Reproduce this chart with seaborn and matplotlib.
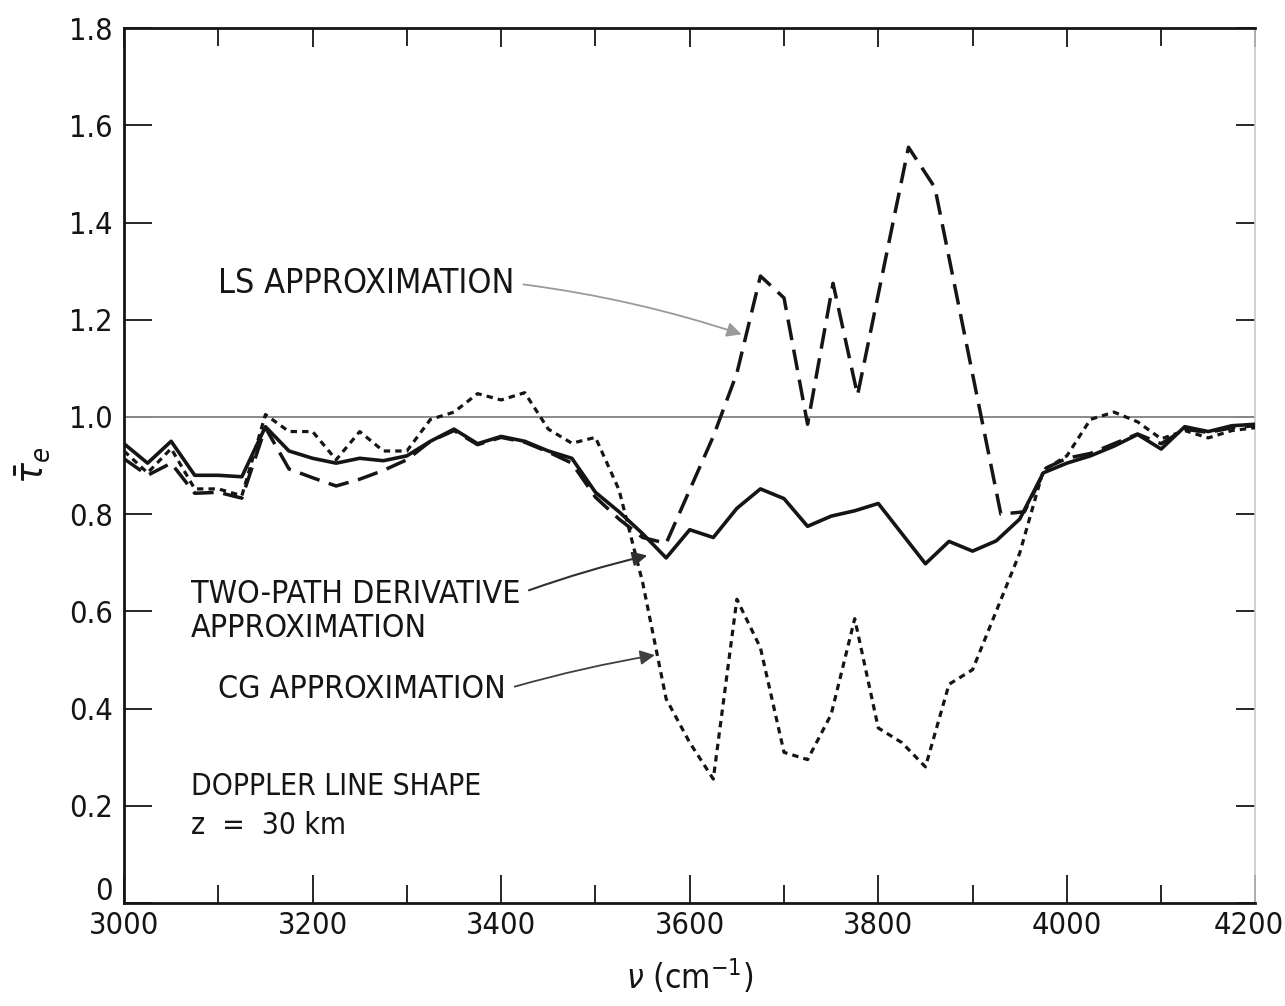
import matplotlib
matplotlib.use("Agg")
import matplotlib.pyplot as plt
import matplotlib.transforms as mtransforms
import seaborn as sns
from matplotlib.ticker import MultipleLocator
from matplotlib import font_manager

# ---- data ----
nu_two_path = [3000, 3025, 3050, 3075, 3100, 3125, 3150, 3175, 3200, 3225, 3250, 3275,
               3300, 3325, 3350, 3375, 3400, 3425, 3450, 3475, 3500, 3525, 3550, 3575,
               3600, 3625, 3650, 3675, 3700, 3725, 3750, 3775, 3800, 3825, 3850, 3875,
               3900, 3925, 3950, 3975, 4000, 4025, 4050, 4075, 4100, 4125, 4150, 4175, 4200]
tau_two_path = [0.945, 0.905, 0.950, 0.880, 0.880, 0.877, 0.980, 0.930, 0.915, 0.905, 0.915, 0.910,
                0.920, 0.950, 0.975, 0.945, 0.960, 0.950, 0.930, 0.915, 0.845, 0.805, 0.760, 0.710,
                0.768, 0.752, 0.812, 0.852, 0.832, 0.775, 0.796, 0.807, 0.822, 0.760, 0.698, 0.744,
                0.724, 0.745, 0.790, 0.885, 0.905, 0.920, 0.940, 0.964, 0.934, 0.980, 0.970, 0.982, 0.985]

nu_ls = [3000, 3025, 3050, 3075, 3100, 3125, 3150, 3175, 3200, 3225, 3250, 3275,
         3300, 3325, 3350, 3375, 3400, 3425, 3450, 3475, 3500, 3525, 3550, 3575,
         3600, 3625, 3650, 3675, 3700, 3725, 3752, 3778, 3832, 3860, 3930, 3955, 3978,
         4000, 4025, 4050, 4075, 4100, 4125, 4150, 4175, 4200]
tau_ls = [0.914, 0.880, 0.905, 0.843, 0.845, 0.833, 0.978, 0.893, 0.875, 0.858, 0.872, 0.890,
          0.912, 0.950, 0.972, 0.943, 0.958, 0.948, 0.928, 0.905, 0.835, 0.790, 0.752, 0.740,
          0.850, 0.960, 1.090, 1.290, 1.245, 0.985, 1.275, 1.045, 1.555, 1.472, 0.800, 0.805, 0.895,
          0.915, 0.925, 0.945, 0.965, 0.945, 0.975, 0.968, 0.978, 0.982]

nu_cg = [3000, 3025, 3050, 3075, 3100, 3125, 3150, 3175, 3200, 3225, 3250, 3275,
         3300, 3325, 3350, 3375, 3400, 3425, 3450, 3475, 3500, 3525, 3550, 3575,
         3600, 3625, 3650, 3675, 3700, 3725, 3750, 3775, 3800, 3825, 3850, 3875,
         3900, 3925, 3950, 3975, 4000, 4025, 4050, 4075, 4100, 4125, 4150, 4175, 4200]
tau_cg = [0.930, 0.885, 0.935, 0.852, 0.852, 0.838, 1.005, 0.970, 0.970, 0.912, 0.970, 0.930,
          0.930, 0.995, 1.010, 1.048, 1.035, 1.050, 0.975, 0.946, 0.958, 0.850, 0.660, 0.420,
          0.330, 0.255, 0.625, 0.525, 0.310, 0.295, 0.388, 0.585, 0.360, 0.330, 0.280, 0.450,
          0.480, 0.600, 0.720, 0.890, 0.920, 0.995, 1.010, 0.990, 0.955, 0.972, 0.957, 0.972, 0.978]

reference_level = 1.0
x_ticks = [3000, 3200, 3400, 3600, 3800, 4000, 4200]
y_ticks = [0, 0.2, 0.4, 0.6, 0.8, 1.0, 1.2, 1.4, 1.6, 1.8]
y_tick_labels = ["0", "0.2", "0.4", "0.6", "0.8", "1.0", "1.2", "1.4", "1.6", "1.8"]

# ---- style ----
sns.set_theme(style="ticks")
plt.rcParams["font.family"] = ["DejaVu Sans"]
plt.rcParams["font.stretch"] = "condensed"
found = font_manager.findfont(font_manager.FontProperties(family="DejaVu Sans", stretch="condensed"))
condensed = "Condensed" in found
plt.rcParams["mathtext.fontset"] = "dejavusans"

TICK_FS = 22 if condensed else 19
LBL_FS = 24 if condensed else 22
NOTE_FS = 23 if condensed else 21

fig = plt.figure(figsize=(12.85, 10.06), dpi=100)
ax = fig.add_axes([0.0965, 0.1024, 0.8805, 0.8696])
INK = "#151515"

ax.axhline(reference_level, color="#8a8a8a", lw=1.4, zorder=1)

sns.lineplot(x=nu_two_path, y=tau_two_path, ax=ax, color=INK, lw=2.6, sort=False,
             linestyle="-", zorder=3)
sns.lineplot(x=nu_ls, y=tau_ls, ax=ax, color=INK, lw=2.5, sort=False,
             linestyle=(0, (6, 2.8)), zorder=3)
sns.lineplot(x=nu_cg, y=tau_cg, ax=ax, color=INK, lw=2.3, sort=False,
             linestyle=(0, (2.0, 1.6)), zorder=3)

ax.set_xlim(3000, 4200)
ax.set_ylim(0, 1.8)
ax.set_xticks(x_ticks)
ax.set_yticks(y_ticks)
ax.set_yticklabels(y_tick_labels)
ax.xaxis.set_minor_locator(MultipleLocator(100))

ax.tick_params(axis="both", which="major", direction="in", length=20, width=1.3,
               color=INK, labelsize=TICK_FS, labelcolor=INK, top=True, right=True)
ax.tick_params(axis="x", which="major", pad=6)
ax.tick_params(axis="y", which="major", pad=8)
ax.tick_params(axis="x", which="minor", direction="in", length=13, width=1.3,
               color=INK, top=True)
for t in ax.yaxis.get_major_ticks():
    t.tick2line.set_color("#9a9a9a")
    t.tick2line.set_markersize(14)
for t in ax.xaxis.get_major_ticks():
    t.tick2line.set_markersize(14)

# nudge the corner labels like the reference: "0" sits above the axis, "4200" inside the canvas
xlabels = ax.get_xticklabels()
xlabels[-1].set_transform(xlabels[-1].get_transform() +
                          mtransforms.ScaledTranslation(-7 / 100, 0, fig.dpi_scale_trans))
ylabels = ax.get_yticklabels()
ylabels[0].set_transform(ylabels[0].get_transform() +
                         mtransforms.ScaledTranslation(0, 14 / 100, fig.dpi_scale_trans))

for side in ["left", "bottom", "top"]:
    ax.spines[side].set_color(INK)
    ax.spines[side].set_linewidth(2.0)
ax.spines["right"].set_color("#c8c8c8")
ax.spines["right"].set_linewidth(1.2)

ax.set_xlabel(r"$\nu$ (cm$^{-1}$)", fontsize=LBL_FS, color=INK, labelpad=12)
ax.set_ylabel(r"$\bar{\tau}_e$", fontsize=LBL_FS + 4, color=INK, labelpad=12)

# ---- annotations ----
ax.annotate("LS APPROXIMATION", xy=(3655, 1.17), xytext=(3100, 1.275),
            fontsize=NOTE_FS + 1.5, color=INK, ha="left", va="center",
            arrowprops=dict(arrowstyle="-|>", color="#9a9a9a", lw=1.3,
                            mutation_scale=22, relpos=(1, 0.5), shrinkA=4, shrinkB=0,
                            connectionstyle="arc3,rad=-0.05"))
ax.annotate("TWO-PATH DERIVATIVE\nAPPROXIMATION", xy=(3555, 0.715), xytext=(3071, 0.6),
            fontsize=NOTE_FS, color=INK, ha="left", va="center", linespacing=1.1,
            arrowprops=dict(arrowstyle="-|>", color="#303030", lw=1.5,
                            mutation_scale=22, relpos=(1, 0.78), shrinkA=4, shrinkB=0,
                            connectionstyle="arc3,rad=-0.03"))
ax.annotate("CG APPROXIMATION", xy=(3563, 0.51), xytext=(3100, 0.44),
            fontsize=NOTE_FS, color=INK, ha="left", va="center",
            arrowprops=dict(arrowstyle="-|>", color="#404040", lw=1.3,
                            mutation_scale=22, relpos=(1, 0.5), shrinkA=4, shrinkB=0,
                            connectionstyle="arc3,rad=-0.03"))
ax.text(3071, 0.24, "DOPPLER LINE SHAPE", fontsize=NOTE_FS - 1.5, color=INK, ha="left", va="center")
ax.text(3071, 0.16, "z  =  30 km", fontsize=NOTE_FS - 1.5, color=INK, ha="left", va="center")

fig.savefig("out.png", dpi=100)
